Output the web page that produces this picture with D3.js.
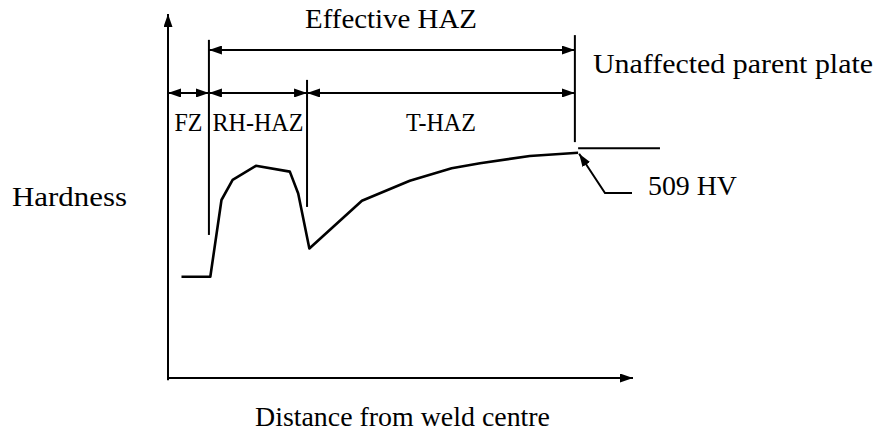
<!DOCTYPE html>
<html lang="en">

<head>
    <meta charset="UTF-8">
    <title>Hardness profile across the weld</title>
    <script src="https://d3js.org/d3.v7.min.js"></script>
    <style>
        body {
            margin: 0;
            background: #fff;
        }

        text {
            font-family: "Liberation Serif", "Times New Roman", serif;
            fill: #000;
        }
    </style>
</head>

<body>
    <script>
        // hardness profile (arbitrary units, 0-100)
        const distance = [2.9, 9.1, 11.5, 13.9, 18.9, 26.2, 28.0, 30.4, 41.7, 52.0, 61.0, 67.1, 77.8, 88.2];
        const hardness = [27.8, 27.8, 48.9, 54.4, 58.3, 56.7, 50.7, 35.6, 48.7, 54.2, 57.6, 59.0, 61.0, 61.9];

        // parent plate level (509 HV)
        const plateDistance = [88.2, 105.8];
        const plateHardness = 63.1;

        // zones along the distance axis
        const zoneNames = ["FZ", "RH-HAZ", "T-HAZ"];
        const zoneEdges = [0, 8.8, 29.9, 87.5];
        const zoneLabelWidths = [28, 91, 70];
        // vertical boundary lines at zoneEdges[1..3]
        const boundaryTop = [92.9, 81.9, 94.2];
        const boundaryBottom = [39.3, 47.0, 64.8];

        const width = 881;
        const height = 433;

        const svg = d3.select("body").append("svg")
            .attr("width", width)
            .attr("height", height);

        const x = d3.scaleLinear().domain([0, 100]).range([168, 633]);
        const y = d3.scaleLinear().domain([0, 100]).range([378, 14]);

        // arrow head
        const defs = svg.append("defs");
        defs.append("marker")
            .attr("id", "arrow")
            .attr("viewBox", "0 0 13 9")
            .attr("refX", 13)
            .attr("refY", 4.5)
            .attr("markerWidth", 13)
            .attr("markerHeight", 9)
            .attr("markerUnits", "userSpaceOnUse")
            .attr("orient", "auto-start-reverse")
            .append("path")
            .attr("d", "M0,0L13,4.5L0,9Z")
            .attr("fill", "#000");

        function label(txt, px, py, len, anchor) {
            return svg.append("text")
                .attr("x", px).attr("y", py)
                .attr("text-anchor", anchor || "start")
                .attr("textLength", len)
                .attr("lengthAdjust", "spacingAndGlyphs")
                .style("font-size", "28px")
                .text(txt);
        }

        // axes
        svg.append("line")
            .attr("x1", x(0)).attr("y1", y(-0.6))
            .attr("x2", x(0)).attr("y2", y(100))
            .attr("stroke", "#000").attr("stroke-width", 2)
            .attr("marker-end", "url(#arrow)");

        svg.append("line")
            .attr("x1", x(0)).attr("y1", y(0))
            .attr("x2", x(100)).attr("y2", y(0))
            .attr("stroke", "#000").attr("stroke-width", 2)
            .attr("marker-end", "url(#arrow)");

        // zone boundaries
        svg.selectAll(".boundary")
            .data(zoneEdges.slice(1))
            .enter()
            .append("line")
            .attr("class", "boundary")
            .attr("x1", d => x(d))
            .attr("x2", d => x(d))
            .attr("y1", (d, i) => y(boundaryTop[i]))
            .attr("y2", (d, i) => y(boundaryBottom[i]))
            .attr("stroke", "#000")
            .attr("stroke-width", 2);

        // double arrows for each zone
        const zoneRow = 78.3;
        svg.selectAll(".zone-arrow")
            .data(zoneNames)
            .enter()
            .append("line")
            .attr("class", "zone-arrow")
            .attr("x1", (d, i) => x(zoneEdges[i]))
            .attr("x2", (d, i) => x(zoneEdges[i + 1]))
            .attr("y1", y(zoneRow))
            .attr("y2", y(zoneRow))
            .attr("stroke", "#000")
            .attr("stroke-width", 2)
            .attr("marker-start", "url(#arrow)")
            .attr("marker-end", "url(#arrow)");

        svg.selectAll(".zone-label")
            .data(zoneNames)
            .enter()
            .append("text")
            .attr("class", "zone-label")
            .attr("x", (d, i) => x((zoneEdges[i] + zoneEdges[i + 1]) / 2))
            .attr("y", 131)
            .attr("text-anchor", "middle")
            .attr("textLength", (d, i) => zoneLabelWidths[i])
            .attr("lengthAdjust", "spacingAndGlyphs")
            .style("font-size", "26px")
            .text(d => d);

        // effective HAZ
        const effRow = 90.1;
        svg.append("line")
            .attr("x1", x(zoneEdges[1])).attr("x2", x(zoneEdges[3]))
            .attr("y1", y(effRow)).attr("y2", y(effRow))
            .attr("stroke", "#000").attr("stroke-width", 2)
            .attr("marker-start", "url(#arrow)")
            .attr("marker-end", "url(#arrow)");

        label("Effective HAZ", 305, 28, 172);
        label("Unaffected parent plate", 593, 73, 280);

        // hardness curve
        const line = d3.line()
            .x((d, i) => x(distance[i]))
            .y((d, i) => y(hardness[i]));

        svg.append("path")
            .datum(distance)
            .attr("d", line)
            .attr("fill", "none")
            .attr("stroke", "#000")
            .attr("stroke-width", 2.6)
            .attr("stroke-linejoin", "round");

        svg.append("line")
            .attr("x1", x(plateDistance[0])).attr("x2", x(plateDistance[1]))
            .attr("y1", y(plateHardness)).attr("y2", y(plateHardness))
            .attr("stroke", "#000").attr("stroke-width", 2);

        // 509 HV leader
        const last = distance.length - 1;
        svg.append("path")
            .attr("d", d3.line()([
                [632, 193], [605, 193],
                [x(distance[last]) + 1, y(hardness[last]) + 1]
            ]))
            .attr("fill", "none")
            .attr("stroke", "#000")
            .attr("stroke-width", 2)
            .attr("marker-end", "url(#arrow)");

        label("509 HV", 648, 195, 89);

        // axis titles
        label("Hardness", 12, 206, 115);
        label("Distance from weld centre", 255, 426, 295);
    </script>
</body>

</html>
